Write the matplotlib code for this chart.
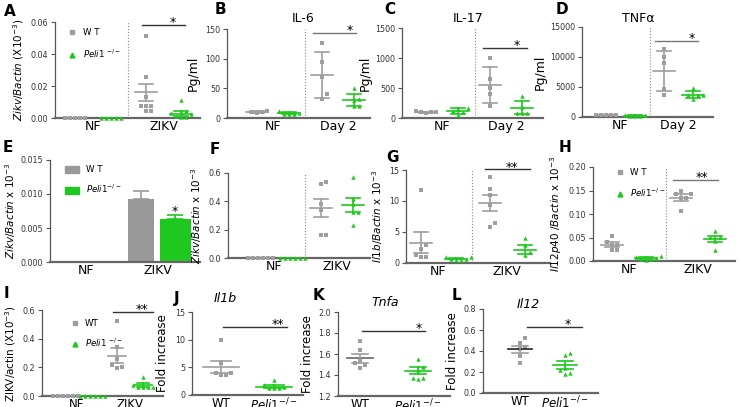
import numpy as np
import matplotlib.pyplot as plt
from matplotlib.lines import Line2D
from matplotlib.patches import Patch

# ---- data ----
# A  Zikv/Bactin (X10^-3)
a_nf_wt = [0, 0, 0, 0, 0]
a_nf_ko = [0, 0, 0, 0, 0]
a_zikv_wt = [0.051, 0.0254, 0.0129, 0.0073, 0.0073, 0.0042, 0.0042, 0.0075]
a_zikv_ko = [0.011, 0.0045, 0.0038, 0.003, 0.0022, 0.001, 0.0008, 0.0005]
a_mean = [0, 0, 0.016, 0.0028]
a_err = [0, 0, 0.0055, 0.0016]
a_yticks = [0, 0.02, 0.04, 0.06]

# B  IL-6 (pg/ml)
b_nf_wt = [11, 10, 10, 9]
b_nf_ko = [11, 9, 7, 6, 7]
b_d2_wt = [126, 94, 69, 40, 32]
b_d2_ko = [50, 32, 30, 21, 20]
b_mean = [10, 8, 72, 30]
b_err = [1, 2, 39, 10]
b_yticks = [0, 50, 100, 150]

# C  IL-17 (pg/ml)
c_nf_wt = [110, 95, 90, 95, 100]
c_nf_ko = [170, 150, 120, 100, 50]
c_d2_wt = [1000, 650, 500, 400, 200]
c_d2_ko = [370, 180, 90, 80, 80]
c_mean = [98, 118, 550, 175]
c_err = [8, 55, 300, 105]
c_yticks = [0, 500, 1000, 1500]

# D  TNFa (pg/ml)
d_nf_wt = [400, 350, 380, 300, 350]
d_nf_ko = [300, 250, 200, 280, 220]
d_d2_wt = [11300, 9960, 8960, 4590, 3750]
d_d2_ko = [4760, 3750, 3750, 2970, 3750]
d_mean = [360, 250, 7720, 3750]
d_err = [40, 40, 3350, 600]
d_yticks = [0, 5000, 10000, 15000]

# E  bars, Zikv/Bactin x 10^-3
e_groups = ['NF', 'ZIKV']
e_wt_mean = [0.00006, 0.0093]
e_wt_err = [0, 0.0012]
e_ko_mean = [0.00006, 0.0063]
e_ko_err = [0, 0.0006]
e_yticks = [0, 0.005, 0.010, 0.015]

# F  Zikv/Bactin x 10^-3
f_nf_wt = [0, 0, 0, 0, 0, 0]
f_nf_ko = [0, 0, 0, 0, 0, 0]
f_zikv_wt = [0.534, 0.525, 0.381, 0.341, 0.165, 0.165]
f_zikv_ko = [0.569, 0.416, 0.381, 0.325, 0.322, 0.231]
f_mean = [0, 0, 0.353, 0.372]
f_err = [0, 0, 0.067, 0.05]
f_yticks = [0, 0.2, 0.4, 0.6]

# G  Il1b/Bactin x 10^-3
g_nf_wt = [11.8, 2.9, 2.2, 1.35, 0.97, 0.97]
g_nf_ko = [1.0, 0.9, 0.7, 0.5, 0.5, 0.6]
g_zikv_wt = [13.9, 11.9, 10.9, 9.4, 6.5, 5.8]
g_zikv_ko = [4.0, 2.9, 1.7, 1.35]
g_mean = [3.3, 0.7, 9.7, 2.15]
g_err = [1.7, 0.1, 1.3, 0.7]
g_yticks = [0, 5, 10, 15]

# H  Il12p40/Bactin x 10^-3
h_nf_wt = [0.053, 0.040, 0.034, 0.034, 0.023, 0.023]
h_nf_ko = [0.011, 0.009, 0.007, 0.0045, 0.0035, 0.002]
h_zikv_wt = [0.150, 0.143, 0.143, 0.133, 0.133, 0.106]
h_zikv_ko = [0.064, 0.052, 0.052, 0.042, 0.023]
h_mean = [0.035, 0.006, 0.135, 0.047]
h_err = [0.005, 0.0015, 0.0065, 0.007]
h_yticks = [0, 0.05, 0.10, 0.15, 0.20]

# I  ZIKV/actin (X10^-3)
i_nf_wt = [0, 0, 0, 0, 0, 0]
i_nf_ko = [0, 0, 0, 0, 0, 0]
i_zikv_wt = [0.523, 0.344, 0.256, 0.216, 0.193, 0.2]
i_zikv_ko = [0.135, 0.077, 0.065, 0.06, 0.06, 0.065]
i_mean = [0, 0, 0.281, 0.077]
i_err = [0, 0, 0.052, 0.011]
i_yticks = [0, 0.2, 0.4, 0.6]

# J/K/L  fold increase
j_wt = [9.9, 5.8, 4.0, 4.0, 3.6, 3.6]
j_ko = [2.7, 1.8, 1.5, 1.2, 1.2, 1.2]
j_mean = [5.0, 1.5]
j_err = [1.1, 0.3]
j_yticks = [0, 5, 10, 15]

k_wt = [1.728, 1.638, 1.536, 1.51, 1.498, 1.466]
k_ko = [1.552, 1.472, 1.446, 1.376, 1.37, 1.366]
k_mean = [1.558, 1.44]
k_err = [0.04, 0.032]
k_yticks = [1.2, 1.4, 1.6, 1.8, 2.0]

l_wt = [0.52, 0.48, 0.435, 0.42, 0.352, 0.288]
l_ko = [0.378, 0.362, 0.218, 0.186, 0.179, 0.234]
l_mean = [0.416, 0.266]
l_err = [0.032, 0.037]
l_yticks = [0, 0.2, 0.4, 0.6, 0.8]

# ---- drawing ----
W, H = 739, 407
GRAY = '#9e9e9e'
GREEN = '#1ec81e'
AXC = '#555555'
KO = r'$\mathit{Peli1}^{-/-}$'

fig = plt.figure(figsize=(W / 100, H / 100), dpi=100)


def make_ax(box, xlim, yticks, fmt, xsize=9):
    x0, y0, x1, y1 = box
    ax = fig.add_axes([x0 / W, 1 - y1 / H, (x1 - x0) / W, (y1 - y0) / H])
    ax.spines['top'].set_visible(False)
    ax.spines['right'].set_visible(False)
    ax.spines['left'].set_color(AXC)
    ax.spines['left'].set_linewidth(0.9)
    ax.spines['bottom'].set_color('#666666')
    ax.spines['bottom'].set_linewidth(1.6)
    ax.tick_params(axis='y', length=3, width=0.8, color=AXC, labelsize=5.8,
                   labelcolor='#333333', pad=2)
    ax.tick_params(axis='x', length=0, labelsize=xsize, pad=1.5)
    ax.set_xlim(xlim)
    ax.set_ylim(yticks[0], yticks[-1])
    ax.set_yticks(yticks)
    ax.set_yticklabels([fmt.format(t) for t in yticks])
    return ax


def swarm(vals, center, sx, sy, step=5.0):
    placed = []
    xs = np.empty(len(vals))
    for i in np.argsort(vals):
        py = vals[i] * sy
        for k in range(60):
            c = (k + 1) // 2 * (1 if k % 2 else -1)
            px = c * step
            if all((px - qx) ** 2 + (py - qy) ** 2 >= (0.95 * step) ** 2 for qx, qy in placed):
                break
        placed.append((px, py))
        xs[i] = center + px / sx
    return xs


def dots(ax, box, centers, series, means, errs, hw=11, cap=7, wt_mean_color=None):
    x0, y0, x1, y1 = box
    xl, yl = ax.get_xlim(), ax.get_ylim()
    sx = (x1 - x0) / (xl[1] - xl[0])
    sy = (y1 - y0) / (yl[1] - yl[0])
    for n, (c, vals, m, e) in enumerate(zip(centers, series, means, errs)):
        wt = n % 2 == 0
        col = GRAY if wt else GREEN
        xs = swarm(np.asarray(vals, float), c, sx, sy)
        ax.scatter(xs, vals, marker='s' if wt else '^', s=10, color=col,
                   linewidths=0, zorder=3, clip_on=False)
        mc = wt_mean_color if (wt and wt_mean_color) else col
        ax.plot([c - hw / sx, c + hw / sx], [m, m], color=mc, lw=1.2, zorder=4)
        if e > 0:
            ax.plot([c, c], [m - e, m + e], color=col, lw=1.2, zorder=4)
            for yy in (m - e, m + e):
                ax.plot([c - cap / sx, c + cap / sx], [yy, yy], color=col, lw=1.2, zorder=4)


def sig(ax, xa, xb, y, label, xs, color='#333333'):
    ax.plot([xa, xb], [y, y], color=color, lw=1, clip_on=False)
    ax.annotate(label, (xs, y), xytext=(0, -3), textcoords='offset points',
                ha='center', va='bottom', fontsize=9, annotation_clip=False)


def divider(ax, x):
    ax.axvline(x, color='#888888', ls=':', lw=0.8)


def letter(px, py, s):
    fig.text(px / W, 1 - py / H, s, fontsize=11, fontweight='bold', ha='center', va='center')


def title(px, py, s, italic=False):
    fig.text(px / W, 1 - py / H, s, fontsize=9, ha='center', va='center',
             style='italic' if italic else 'normal')


def dot_legend(ax, loc, labels, spacing=1.2):
    hs = [Line2D([], [], marker='s', ls='', color=GRAY, ms=3.5),
          Line2D([], [], marker='^', ls='', color=GREEN, ms=3.5)]
    ax.legend(hs, labels, loc='upper left', bbox_to_anchor=loc, frameon=False,
              fontsize=6.2, handletextpad=0.6, labelspacing=spacing,
              borderaxespad=0, handlelength=1.2)


four = [-0.25, 0.25, 0.75, 1.25]

# A
box = (55, 22, 200, 118)
ax = make_ax(box, (-0.54, 1.52), a_yticks, '{:.2f}')
dots(ax, box, four, [a_nf_wt, a_nf_ko, a_zikv_wt, a_zikv_ko], a_mean, a_err)
divider(ax, 0.495)
sig(ax, 0.69, 1.30, 0.058, '*', 1.13)
ax.set_xticks([0, 1], ['NF', 'ZIKV'])
ax.set_ylabel(r'$\mathit{Zikv/Bactin}$ (X10$^{-3}$)', fontsize=7.5, labelpad=3)
dot_legend(ax, (0.06, 0.97), ['W T', r'$\mathit{Peli1}$ $^{-/-}$'])
letter(10, 11, 'A')

# B
box = (227, 29, 370, 118)
ax = make_ax(box, (-0.71, 1.49), b_yticks, '{:d}')
dots(ax, box, four, [b_nf_wt, b_nf_ko, b_d2_wt, b_d2_ko], b_mean, b_err)
divider(ax, 0.49)
sig(ax, 0.61, 1.28, 143, '*', 1.18, color='#777777')
ax.set_xticks([0, 1], ['NF', 'Day 2'])
ax.set_ylabel('Pg/ml', fontsize=9, labelpad=4)
letter(220, 10, 'B')
title(303, 18, 'IL-6')

# C
box = (402, 28, 543, 118)
ax = make_ax(box, (-0.625, 1.58), c_yticks, '{:d}')
dots(ax, box, four, [c_nf_wt, c_nf_ko, c_d2_wt, c_d2_ko], c_mean, c_err)
divider(ax, 0.52)
sig(ax, 0.64, 1.33, 1167, '*', 1.17)
ax.set_xticks([0, 1], ['NF', 'Day 2'])
ax.set_ylabel('Pg/ml', fontsize=9, labelpad=2)
letter(390, 10, 'C')
title(468, 18, 'IL-17')

# D
box = (582, 27, 713, 117)
ax = make_ax(box, (-0.655, 1.60), d_yticks, '{:d}')
dots(ax, box, four, [d_nf_wt, d_nf_ko, d_d2_wt, d_d2_ko], d_mean, d_err)
divider(ax, 0.52)
sig(ax, 0.60, 1.345, 12700, '*', 1.24, color='#777777')
ax.set_xticks([0, 1], ['NF', 'Day 2'])
ax.set_ylabel('Pg/ml', fontsize=9, labelpad=2)
letter(562, 10, 'D')
title(638, 18, 'TNFα')

# E  bars
box = (50, 160, 200, 262)
ax = make_ax(box, (-0.51, 1.59), e_yticks, '{:.3f}')
xg = np.arange(len(e_groups))
ax.bar(xg - 0.24, e_wt_mean, 0.36, color='#999999', zorder=2)
ax.bar(xg + 0.24, e_ko_mean, 0.42, color=GREEN, edgecolor=['#c03030', GREEN], lw=0.8, zorder=2)
ax.errorbar(xg[1:] - 0.24, e_wt_mean[1:], yerr=[[0], e_wt_err[1:]], fmt='none',
            ecolor='#999999', elinewidth=1.2, capsize=6, capthick=1.2)
ax.errorbar(xg[1:] + 0.24, e_ko_mean[1:], yerr=[[0], e_ko_err[1:]], fmt='none',
            ecolor=GREEN, elinewidth=1.2, capsize=6, capthick=1.2)
ax.annotate('*', (1.24, e_ko_mean[1] + e_ko_err[1]), xytext=(0, -2), textcoords='offset points',
            ha='center', va='bottom', fontsize=9)
ax.set_xticks(xg, e_groups)
ax.set_ylabel(r'$\mathit{Zikv/Bactin}$ x 10$^{-3}$', fontsize=7.5, labelpad=2)
ax.legend([Patch(color='#999999'), Patch(color=GREEN)], ['W T', r'$\mathit{Peli1}^{-/-}$'],
          loc='upper left', bbox_to_anchor=(0.08, 0.98), frameon=False, fontsize=6.2,
          handlelength=1.6, handleheight=0.8, labelspacing=1.0, borderaxespad=0)
letter(8, 147, 'E')

# F
box = (228, 173, 370, 258)
ax = make_ax(box, (-0.73, 1.52), f_yticks, '{:.1f}')
dots(ax, box, four, [f_nf_wt, f_nf_ko, f_zikv_wt, f_zikv_ko], f_mean, f_err)
divider(ax, 0.49)
ax.set_xticks([0, 1], ['NF', 'ZIKV'])
ax.set_ylabel(r'$\mathit{Zikv/Bactin}$ x 10$^{-3}$', fontsize=7.5, labelpad=3)
letter(215, 150, 'F')

# G
box = (406, 170, 550, 263)
ax = make_ax(box, (-0.47, 1.62), g_yticks, '{:d}')
dots(ax, box, four, [g_nf_wt, g_nf_ko, g_zikv_wt, g_zikv_ko], g_mean, g_err)
divider(ax, 0.49)
sig(ax, 0.675, 1.33, 15.1, '**', 1.07)
ax.set_xticks([0, 1], ['NF', 'ZIKV'])
ax.set_ylabel(r'$\mathit{Il1b/Bactin}$ x 10$^{-3}$', fontsize=7.5, labelpad=3)
letter(392, 157, 'G')

# H
box = (593, 167, 735, 261)
ax = make_ax(box, (-0.52, 1.54), h_yticks, '{:.2f}')
dots(ax, box, four, [h_nf_wt, h_nf_ko, h_zikv_wt, h_zikv_ko], h_mean, h_err)
divider(ax, 0.54)
sig(ax, 0.64, 1.29, 0.172, '**', 1.06, color='#777777')
ax.set_xticks([0, 1], ['NF', 'ZIKV'])
ax.set_ylabel(r'$\mathit{Il12p40\ /Bactin}$ x 10$^{-3}$', fontsize=7.5, labelpad=3)
dot_legend(ax, (0.13, 1.03), ['W T', r'$\mathit{Peli1}^{-/-}$'])
letter(565, 148, 'H')

# I
box = (42, 310, 163, 396)
ax = make_ax(box, (-0.645, 1.62), i_yticks, '{:.1f}', xsize=8.5)
dots(ax, box, four, [i_nf_wt, i_nf_ko, i_zikv_wt, i_zikv_ko], i_mean, i_err, hw=9, cap=6)
sig(ax, 0.68, 1.43, 0.586, '**', 1.22)
ax.set_xticks([0, 1], ['NF', 'ZIKV'])
ax.set_ylabel(r'ZIKV/actin (X10$^{-3}$)', fontsize=7.5, labelpad=3)
dot_legend(ax, (0.2, 0.93), ['WT', r'$\mathit{Peli1}$ $^{-/-}$'], spacing=0.9)
letter(6, 293, 'I')

# J
box = (192, 312, 303, 395)
ax = make_ax(box, (-0.55, 1.54), j_yticks, '{:d}', xsize=8.5)
dots(ax, box, [0, 1], [j_wt, j_ko], j_mean, j_err, hw=18, cap=10)
sig(ax, 0.035, 1.24, 12.3, '**', 1.07)
ax.set_xticks([0, 1], ['WT', KO])
ax.set_ylabel('Fold increase', fontsize=8.5, labelpad=4)
letter(177, 299, 'J')
title(225, 298, 'Il1b', italic=True)

# K
box = (338, 312, 450, 396)
ax = make_ax(box, (-0.38, 1.55), k_yticks, '{:.1f}', xsize=8.5)
dots(ax, box, [0, 1], [k_wt, k_ko], k_mean, k_err, hw=13, cap=8, wt_mean_color='#666666')
sig(ax, 0.03, 1.12, 1.82, '*', 1.02)
ax.set_xticks([0, 1], ['WT', KO])
ax.set_ylabel('Fold increase', fontsize=8.5, labelpad=3)
letter(318, 295, 'K')
title(385, 303, 'Tnfa', italic=True)

# L
box = (483, 309, 598, 393)
ax = make_ax(box, (-0.82, 1.73), l_yticks, '{:.1f}', xsize=8.5)
dots(ax, box, [0, 1], [l_wt, l_ko], l_mean, l_err, hw=12, cap=8, wt_mean_color='#222222')
sig(ax, 0.16, 1.38, 0.627, '*', 1.05)
ax.set_xticks([0, 1], ['WT', KO])
ax.set_ylabel('Fold increase', fontsize=8.5, labelpad=3)
letter(456, 295, 'L')
title(528, 305, 'Il12', italic=True)

fig.savefig('out.png', dpi=100)
